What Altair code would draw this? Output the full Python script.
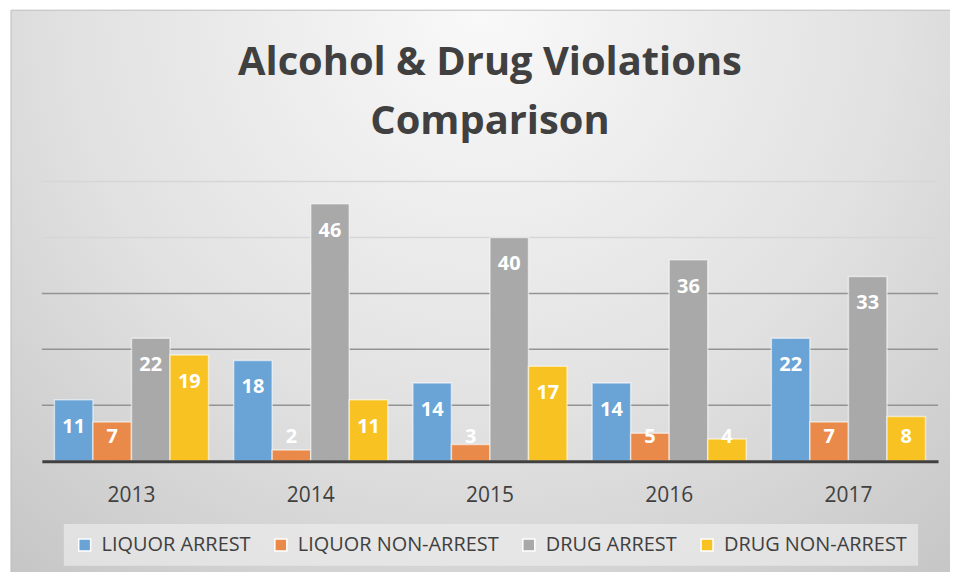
import altair as alt
import pandas as pd

years = ["2013", "2014", "2015", "2016", "2017"]
series = ["LIQUOR ARREST", "LIQUOR NON-ARREST", "DRUG ARREST", "DRUG NON-ARREST"]
liquor_arrest = [11, 18, 14, 14, 22]
liquor_non_arrest = [7, 2, 3, 5, 7]
drug_arrest = [22, 46, 40, 36, 33]
drug_non_arrest = [19, 11, 17, 4, 8]
grid_values = [10, 20, 30, 40, 50]
colors = ["#6aa3d6", "#e98a4a", "#a9a9a9", "#f8c322"]

rows = []
for s, vals in zip(series, [liquor_arrest, liquor_non_arrest, drug_arrest, drug_non_arrest]):
    for y, v in zip(years, vals):
        rows.append({"year": y, "series": s, "value": v})
df = pd.DataFrame(rows)

FONT = "Open Sans"
yscale = alt.Scale(domain=[0, 50], nice=False, zero=True)
xscale = alt.Scale(paddingInner=0.14, paddingOuter=0.07)
xoff = alt.XOffset("series:N", sort=series, scale=alt.Scale(paddingInner=0, paddingOuter=0))

gradient = {
    "gradient": "radial",
    "x1": 0.5, "y1": 0.2, "r1": 0,
    "x2": 0.5, "y2": 0.2, "r2": 0.8,
    "stops": [
        {"offset": 0, "color": "#f9f9f9"},
        {"offset": 0.55, "color": "#e1e1e1"},
        {"offset": 1, "color": "#c4c4c4"},
    ],
}

bg = alt.Chart(pd.DataFrame({"k": [0]})).mark_rect(
    fill=gradient, stroke="#bdbdbd", strokeWidth=1
).encode(x=alt.value(-31), x2=alt.value(915), y=alt.value(-172), y2=alt.value(400))

grid = alt.Chart(pd.DataFrame({"v": grid_values})).mark_rule(strokeWidth=1.5).encode(
    y=alt.Y("v:Q", scale=yscale, axis=None),
    color=alt.condition(alt.datum.v <= 30, alt.value("#939393"), alt.value("#d6d6d6")),
)

xenc = alt.X(
    "year:N", sort=years, scale=xscale,
    axis=alt.Axis(title=None, labelAngle=0, ticks=False, domainColor="#404040",
                  domainWidth=3, labelFont=FONT, labelFontSize=21,
                  labelColor="#404040", labelPadding=23, zindex=1),
)

bars = alt.Chart(df).mark_bar(stroke="#ffffff", strokeOpacity=0.55, strokeWidth=1.5).encode(
    x=xenc,
    xOffset=xoff,
    y=alt.Y("value:Q", scale=yscale, axis=None),
    color=alt.Color(
        "series:N", sort=series,
        scale=alt.Scale(domain=series, range=colors),
        legend=alt.Legend(
            title=None, orient="none", legendX=22, legendY=344, direction="horizontal",
            columns=4, columnPadding=20, labelFont=FONT, labelFontSize=20,
            labelColor="#404040", symbolType="square", symbolSize=144,
            symbolStrokeColor="#ffffff", symbolStrokeWidth=1.5, labelOffset=7,
            padding=11, fillColor="rgba(240,240,240,0.6)", symbolOpacity=1,
            labelLimit=400,
        ),
    ),
)

labels = alt.Chart(df).transform_calculate(
    lp="max(datum.value - 4.8, 4.3)"
).mark_text(color="white", fontSize=20, fontWeight="bold", font=FONT, baseline="middle").encode(
    x=alt.X("year:N", sort=years, scale=xscale),
    xOffset=xoff,
    y=alt.Y("lp:Q", scale=yscale, axis=None),
    text="value:Q",
)

chart = alt.layer(bg, grid, bars, labels).properties(
    width=900, height=281,
    autosize=alt.AutoSizeParams(type="none"),
    padding={"left": 34, "top": 173, "right": 12, "bottom": 110},
    title=alt.TitleParams(
        ["Alcohol & Drug Violations", "Comparison"], font=FONT, fontSize=40,
        fontWeight="bold", color="#404040", anchor="middle", lineHeight=59,
        offset=-133, frame="group",
    ),
).configure_view(stroke=None)

chart.save("out.html", embed_options={"renderer": "svg", "actions": False})
